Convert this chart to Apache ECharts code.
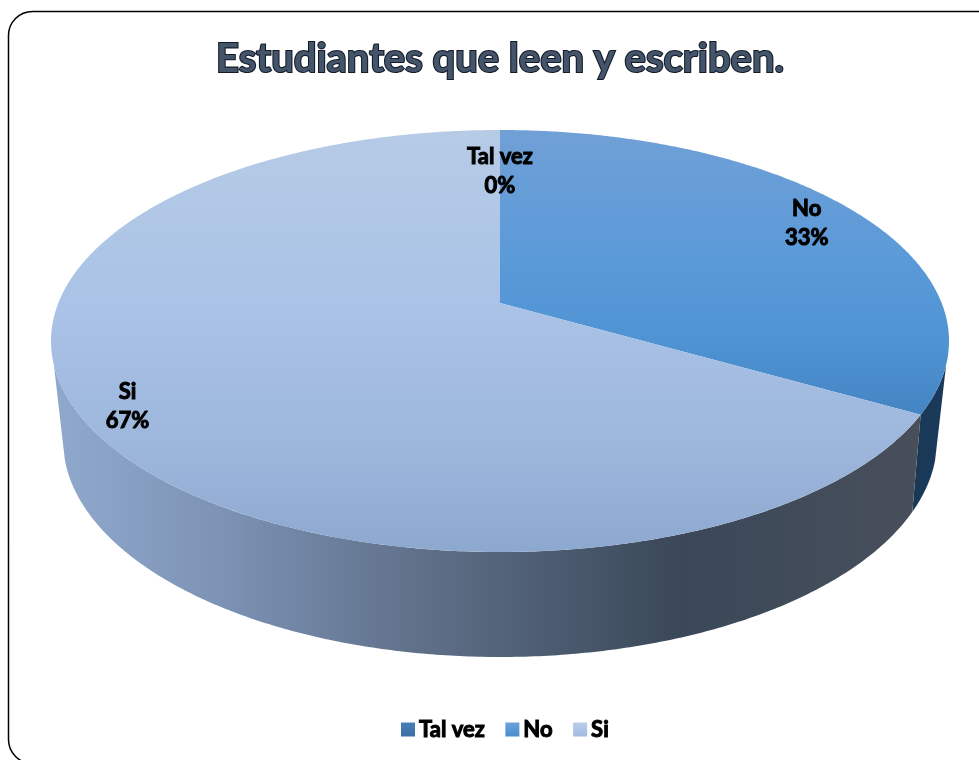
<!DOCTYPE html>
<html>
<head>
<meta charset="utf-8">
<style>html,body{margin:0;padding:0;background:#fff}#c{width:979px;height:760px}</style>
<script src="https://cdn.jsdelivr.net/npm/echarts@6/dist/echarts.min.js"></script>
</head>
<body>
<div id="c"></div>
<script>
const titleText = 'Estudiantes que leen y escriben.';
const categories = ['Tal vez', 'No', 'Si'];
const seriesValues = [0, 33.3, 66.7];

const total = seriesValues.reduce((a, b) => a + b, 0);
const starts = [];
seriesValues.reduce((acc, v, i) => { starts[i] = acc; return acc + v; }, 0);

const G = (x0, y0, x1, y1, stops) => new echarts.graphic.LinearGradient(x0, y0, x1, y1,
  stops.map((c, i) => ({ offset: c[0], color: c[1] })));

const topFill = [
  G(0, 0, 0, 1, [[0, '#4d83bb'], [1, '#3a6ea5']]),
  G(0, 0, 0, 1, [[0, '#70a0d6'], [0.45, '#5b9ad9'], [0.75, '#4f93d3'], [1, '#4484c3']]),
  G(0, 0, 0, 1, [[0, '#b6cbe6'], [0.4, '#aac3e6'], [0.75, '#9db6dc'], [1, '#8da8cf']])
];
const wallFill = [
  '#2a5078',
  G(0, 0, 1, 0, [[0, '#1a3855'], [1, '#1a3a5c']]),
  G(0, 0, 1, 0, [[0, '#8fa9cd'], [0.2, '#7c92b4'], [0.42, '#5f7089'], [0.72, '#3a4858'], [1, '#484f5b']])
];
const legendFill = [
  G(0, 0, 0, 1, [[0, '#4a80b8'], [1, '#3a6ea5']]),
  G(0, 0, 0, 1, [[0, '#6aa1dc'], [1, '#4a8dce']]),
  G(0, 0, 0, 1, [[0, '#b8cde8'], [1, '#a2bce0']])
];
const labelRadius = [0.73, 0.865, 0.90];
const labelNudge = [[0, 0], [0, 2], [2, 3]];

// perspective disc: the unit circle with its centre pushed towards the far side
const B_TOP = -0.18, B_BOT = -0.20;
const WALL_MIN = 106.7, WALL_MAX = 253.3;
const BOT_SX = 437 / 449, BOT_DY = 99 / 211, BOT_SY = 217 / 211;

function disc(r, deg, b) {
  const a = deg * Math.PI / 180;
  const u = r * Math.sin(a), v = -r * Math.cos(a);
  const d = 1 + b * v;
  return [u * Math.sqrt(1 - b * b) / d, (v + b) / d];
}
const topPt = (r, deg) => disc(r, deg, B_TOP);
const botPt = deg => { const p = disc(1, deg, B_BOT); return [p[0] * BOT_SX, p[1] * BOT_SY + BOT_DY]; };

function arc(fn, a0, a1) {
  const pts = [], n = Math.max(2, Math.ceil(Math.abs(a1 - a0) * 2));
  for (let i = 0; i <= n; i++) pts.push(fn(a0 + (a1 - a0) * i / n));
  return pts;
}

function makeRender(idx) {
  return function (params, api) {
    const value = api.value(0);
    const a0 = starts[idx] / total * 360, a1 = a0 + value / total * 360;
    const children = [];
    if (value > 0) {
      const face = [topPt(0, 0)].concat(arc(d => topPt(1, d), a0, a1)).map(p => api.coord(p));
      children.push({ type: 'polygon', z2: 2, shape: { points: face },
        style: { fill: topFill[idx], stroke: null } });
      const w0 = Math.max(a0, WALL_MIN), w1 = Math.min(a1, WALL_MAX);
      if (w1 > w0) {
        const wall = arc(d => topPt(1, d), w0, w1).concat(arc(botPt, w1, w0)).map(p => api.coord(p));
        children.push({ type: 'polygon', z2: 1, shape: { points: wall },
          style: { fill: wallFill[idx], stroke: null } });
      }
    }
    const mid = (a0 + a1) / 2;
    const c = api.coord(topPt(labelRadius[idx], mid));
    children.push({ type: 'text', z2: 10, style: {
      x: c[0] + labelNudge[idx][0], y: c[1] + labelNudge[idx][1], align: 'center', verticalAlign: 'middle',
      text: categories[idx] + '\n' + Math.round(value / total * 100) + '%',
      fontFamily: 'Lato', fontWeight: 'bold', fontSize: 22, lineHeight: 29,
      fill: '#000', stroke: '#000', lineWidth: 1
    } });
    return { type: 'group', children };
  };
}

const chart = echarts.init(document.getElementById('c'), null, { renderer: 'canvas' });
chart.setOption({
  backgroundColor: '#fff',
  animation: false,
  title: {
    text: titleText, left: 495, top: 34, textAlign: 'center',
    textStyle: { fontFamily: 'Lato', fontWeight: 'bold', fontSize: 40, color: '#44546a',
      textBorderColor: '#141c28', textBorderWidth: 2.2 }
  },
  legend: {
    data: categories, left: 396, top: 713, itemWidth: 14, itemHeight: 14, itemGap: 20,
    selectedMode: false, icon: 'rect',
    textStyle: { fontFamily: 'Lato', fontWeight: 'bold', fontSize: 22, color: '#000',
      textBorderColor: '#000', textBorderWidth: 1, padding: [0, 0, 0, -1] }
  },
  grid: { left: 51, top: 130, width: 898, height: 422 },
  xAxis: { type: 'value', min: -1, max: 1, show: false },
  yAxis: { type: 'value', min: -1, max: 1, inverse: true, show: false },
  graphic: [{
    type: 'rect', z: -1, silent: true,
    shape: { x: 8.5, y: 11.5, width: 1000, height: 752, r: 24 },
    style: { fill: '#fff', stroke: '#000', lineWidth: 1.5 }
  }],
  series: categories.map((name, i) => ({
    type: 'custom', name, coordinateSystem: 'cartesian2d',
    clip: false, silent: true,
    itemStyle: { color: legendFill[i] },
    data: [[seriesValues[i], 0]],
    renderItem: makeRender(i)
  }))
});
</script>
</body>
</html>
